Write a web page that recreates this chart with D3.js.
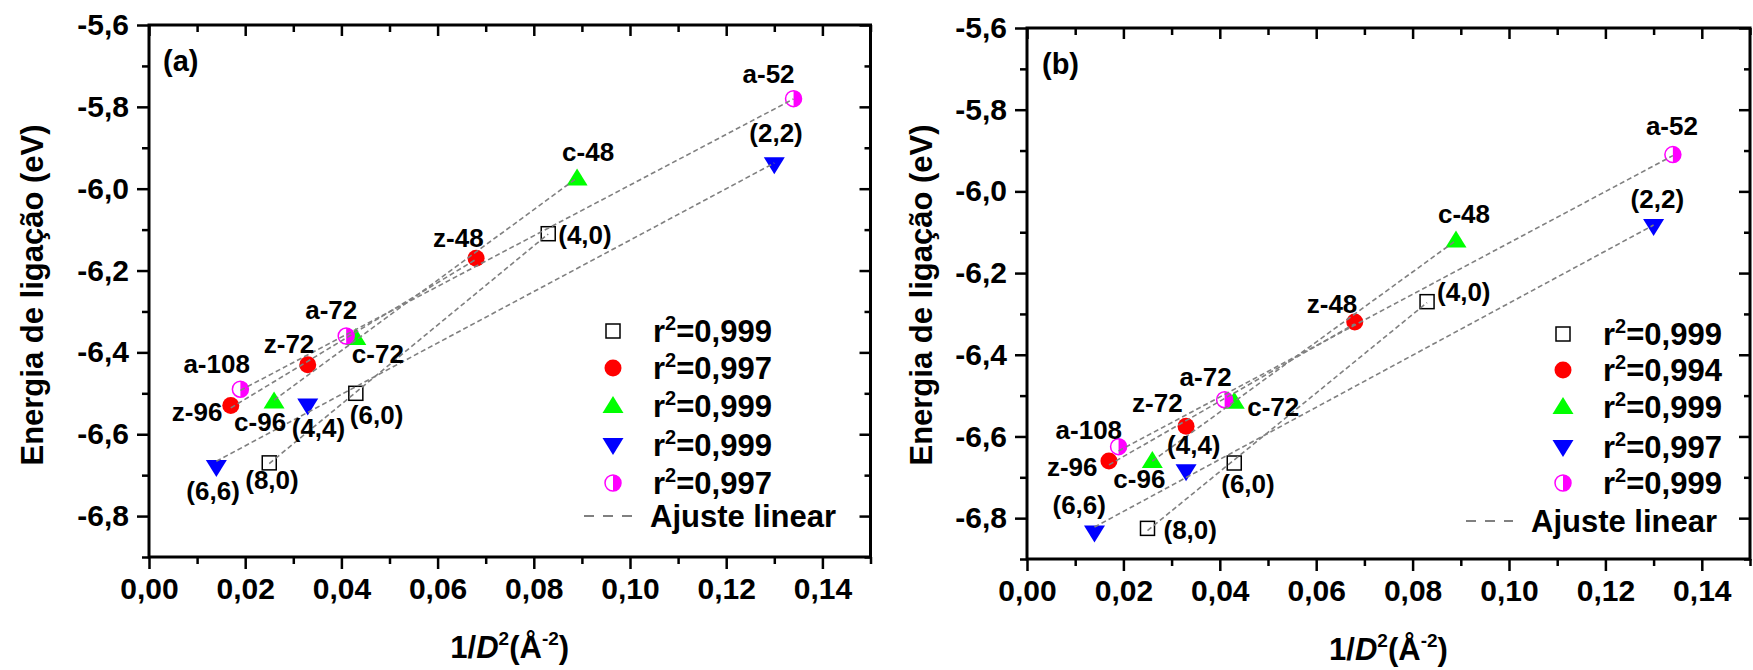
<!DOCTYPE html>
<html>
<head>
<meta charset="utf-8">
<script src="https://cdn.jsdelivr.net/npm/d3@7"></script>
<style>
  body { margin: 0; background: #fff; }
  svg { font-family: "Liberation Sans", Arial, sans-serif; font-weight: bold; }
</style>
</head>
<body>
<div class="canvas"></div>
<script>
// x values (1/D^2), same structures in both panels
const zigzagX = [0.025, 0.043, 0.083];
const zX = [0.017, 0.033, 0.068];
const cX = [0.026, 0.043, 0.089];
const armchairX = [0.014, 0.033, 0.130];
const aX = [0.019, 0.041, 0.134];

// binding energies, panel (a)
const zigzagYA = [-6.67, -6.50, -6.11];
const zYA = [-6.53, -6.43, -6.17];
const cYA = [-6.52, -6.365, -5.975];
const armchairYA = [-6.68, -6.53, -5.94];
const aYA = [-6.49, -6.36, -5.78];

// binding energies, panel (b)
const zigzagYB = [-6.825, -6.665, -6.27];
const zYB = [-6.66, -6.575, -6.32];
const cYB = [-6.66, -6.515, -6.12];
const armchairYB = [-6.835, -6.685, -6.085];
const aYB = [-6.625, -6.51, -5.91];

// point labels
const zigzagLabels = ['(8,0)', '(6,0)', '(4,0)'];
const zLabels = ['z-96', 'z-72', 'z-48'];
const cLabels = ['c-96', 'c-72', 'c-48'];
const armchairLabels = ['(6,6)', '(4,4)', '(2,2)'];
const aLabels = ['a-108', 'a-72', 'a-52'];

// legend r^2
const r2A = ['0,999', '0,997', '0,999', '0,999', '0,997'];
const r2B = ['0,999', '0,994', '0,999', '0,997', '0,999'];

// ticks
const xTicks = [0, 0.02, 0.04, 0.06, 0.08, 0.10, 0.12, 0.14];
const xMinor = [0.01, 0.03, 0.05, 0.07, 0.09, 0.11, 0.13, 0.15];
const yTicks = [-5.6, -5.8, -6.0, -6.2, -6.4, -6.6, -6.8];
const yMinor = [-5.7, -5.9, -6.1, -6.3, -6.5, -6.7, -6.9];

// label offsets in px from the point (left x, baseline)
const offsetsA = [
  [[-24, 26], [-6, 31], [10, 10]],
  [[-59, 15], [-44, -12], [-43, -11]],
  [[-40, 30], [-4, 25], [-15, -17]],
  [[-30, 33], [-16, 31], [-25, -22]],
  [[-57, -16], [-41, -17], [-51, -16]]
];
const offsetsB = [
  [[16, 11], [-13, 30], [10, -1]],
  [[-62, 15], [-54, -14], [-48, -9]],
  [[-39, 27], [13, 14], [-18, -17]],
  [[-42, -18], [-19, -17], [-23, -18]],
  [[-63, -8], [-45, -14], [-27, -20]]
];

const locale = d3.formatLocale({ decimal: ',', thousands: '.', grouping: [3], currency: ['', ''], minus: '-' });
const fmtX = locale.format('.2f');
const fmtY = locale.format('.1f');

const symbols = ['square', 'circle', 'up', 'down', 'half'];
const colors = ['#000', '#ff0000', '#00ff00', '#0000ff', '#ff00ff'];

const width = 1753;
const height = 670;

const svg = d3.select('.canvas')
  .append('svg')
  .attr('width', width)
  .attr('height', height);

const panels = [
  {
    tag: '(a)', ys: [zigzagYA, zYA, cYA, armchairYA, aYA], r2: r2A, offsets: offsetsA,
    left: 149, top: 25, right: 870.5, bottom: 557,
    yTitleX: 43, xTitleY: 658, tagX: 163, tagY: 71,
    legend: { symX: 613, rowY: [331, 368, 406, 445, 483], textX: 653, lineX: [584, 632], lineY: 516, fitTextX: 650 }
  },
  {
    tag: '(b)', ys: [zigzagYB, zYB, cYB, armchairYB, aYB], r2: r2B, offsets: offsetsB,
    left: 1027, top: 28, right: 1750, bottom: 559,
    yTitleX: 932, xTitleY: 660, tagX: 1042, tagY: 74,
    legend: { symX: 1563, rowY: [334, 370, 407, 447, 483], textX: 1603, lineX: [1466, 1513], lineY: 521, fitTextX: 1531 }
  }
];

const xs = [zigzagX, zX, cX, armchairX, aX];
const labels = [zigzagLabels, zLabels, cLabels, armchairLabels, aLabels];

function drawSymbol(g, type, color, cx, cy) {
  const s = g.append('g').attr('transform', `translate(${cx}, ${cy})`);
  if (type === 'square') {
    s.append('rect').attr('x', -7).attr('y', -7).attr('width', 14).attr('height', 14)
      .attr('fill', '#fff').attr('stroke', color).attr('stroke-width', 1.5);
  } else if (type === 'circle') {
    s.append('circle').attr('r', 8.5).attr('fill', color);
  } else if (type === 'up') {
    s.append('path').attr('d', 'M0,-10L10.5,7L-10.5,7Z').attr('fill', color);
  } else if (type === 'down') {
    s.append('path').attr('d', 'M0,10L10.5,-7L-10.5,-7Z').attr('fill', color);
  } else {
    s.append('circle').attr('r', 8).attr('fill', '#fff').attr('stroke', color).attr('stroke-width', 1.5);
    s.append('path').attr('d', 'M0,-8A8,8 0 0,1 0,8Z').attr('fill', color);
  }
}

// least squares line
function fit(x, y) {
  const mx = d3.mean(x), my = d3.mean(y);
  const sxy = d3.sum(x, (d, i) => (d - mx) * (y[i] - my));
  const sxx = d3.sum(x, d => (d - mx) * (d - mx));
  const b = sxy / sxx;
  return v => my + b * (v - mx);
}

panels.forEach(p => {
  const xScale = d3.scaleLinear().domain([0, 0.15]).range([p.left, p.right]);
  const yScale = d3.scaleLinear().domain([-6.9, -5.6]).range([p.bottom, p.top]);
  const g = svg.append('g');

  // axes: left/bottom outward with labels, top/right inward without
  const addAxis = (axis, transform) => {
    const a = g.append('g').attr('transform', transform).call(axis);
    a.select('.domain').remove();
    a.selectAll('line').attr('stroke', '#000').attr('stroke-width', 2.5);
    a.selectAll('text').attr('fill', '#000').style('font-size', '30px');
    return a;
  };

  addAxis(d3.axisLeft(yScale).tickValues(yTicks).tickSize(12).tickPadding(8).tickFormat(fmtY), `translate(${p.left},0)`);
  addAxis(d3.axisLeft(yScale).tickValues(yMinor).tickSize(7).tickFormat(''), `translate(${p.left},0)`);
  addAxis(d3.axisBottom(xScale).tickValues(xTicks).tickSize(12).tickPadding(9).tickFormat(fmtX), `translate(0,${p.bottom})`);
  addAxis(d3.axisBottom(xScale).tickValues(xMinor).tickSize(7).tickFormat(''), `translate(0,${p.bottom})`);
  addAxis(d3.axisBottom(xScale).tickValues(xTicks).tickSize(11).tickFormat(''), `translate(0,${p.top})`);
  addAxis(d3.axisBottom(xScale).tickValues(xMinor).tickSize(7).tickFormat(''), `translate(0,${p.top})`);
  addAxis(d3.axisLeft(yScale).tickValues(yTicks).tickSize(11).tickFormat(''), `translate(${p.right},0)`);
  addAxis(d3.axisLeft(yScale).tickValues(yMinor).tickSize(6).tickFormat(''), `translate(${p.right},0)`);

  g.append('rect')
    .attr('x', p.left).attr('y', p.top)
    .attr('width', p.right - p.left).attr('height', p.bottom - p.top)
    .attr('fill', 'none').attr('stroke', '#000').attr('stroke-width', 3);

  // markers
  xs.forEach((x, i) => {
    x.forEach((v, j) => drawSymbol(g, symbols[i], colors[i], xScale(v), yScale(p.ys[i][j])));
  });

  // linear fits
  xs.forEach((x, i) => {
    const f = fit(x, p.ys[i]);
    const x0 = d3.min(x), x1 = d3.max(x);
    g.append('line')
      .attr('x1', xScale(x0)).attr('y1', yScale(f(x0)))
      .attr('x2', xScale(x1)).attr('y2', yScale(f(x1)))
      .attr('stroke', '#808080').attr('stroke-width', 1.6)
      .attr('stroke-dasharray', '5,3');
  });

  // point labels
  xs.forEach((x, i) => {
    x.forEach((v, j) => {
      const o = p.offsets[i][j];
      g.append('text')
        .attr('x', xScale(v) + o[0]).attr('y', yScale(p.ys[i][j]) + o[1])
        .style('font-size', '26px')
        .text(labels[i][j]);
    });
  });

  // legend
  const L = p.legend;
  L.rowY.forEach((ry, i) => {
    drawSymbol(g, symbols[i], colors[i], L.symX, ry);
    const t = g.append('text').attr('x', L.textX).attr('y', ry).attr('dy', '0.36em').style('font-size', '31px');
    t.append('tspan').text('r');
    t.append('tspan').attr('dy', -12).style('font-size', '20px').text('2');
    t.append('tspan').attr('dy', 12).text('=' + p.r2[i]);
  });
  g.append('line')
    .attr('x1', L.lineX[0]).attr('x2', L.lineX[1]).attr('y1', L.lineY).attr('y2', L.lineY)
    .attr('stroke', '#808080').attr('stroke-width', 2).attr('stroke-dasharray', '10,9');
  g.append('text').attr('x', L.fitTextX).attr('y', L.lineY).attr('dy', '0.36em')
    .style('font-size', '31px').text('Ajuste linear');

  // panel tag
  g.append('text').attr('x', p.tagX).attr('y', p.tagY).style('font-size', '29px').text(p.tag);

  // axis titles
  g.append('text')
    .attr('transform', `translate(${p.yTitleX}, 295) rotate(-90)`)
    .attr('text-anchor', 'middle')
    .style('font-size', '31px')
    .text('Energia de ligação (eV)');

  const xt = g.append('text')
    .attr('x', (p.left + p.right) / 2).attr('y', p.xTitleY)
    .attr('text-anchor', 'middle').style('font-size', '31px');
  xt.append('tspan').text('1/');
  xt.append('tspan').style('font-style', 'italic').text('D');
  xt.append('tspan').attr('dy', -13).style('font-size', '19px').text('2');
  xt.append('tspan').attr('dy', 13).text('(Å');
  xt.append('tspan').attr('dy', -13).style('font-size', '19px').text('-2');
  xt.append('tspan').attr('dy', 13).text(')');
});
</script>
</body>
</html>
